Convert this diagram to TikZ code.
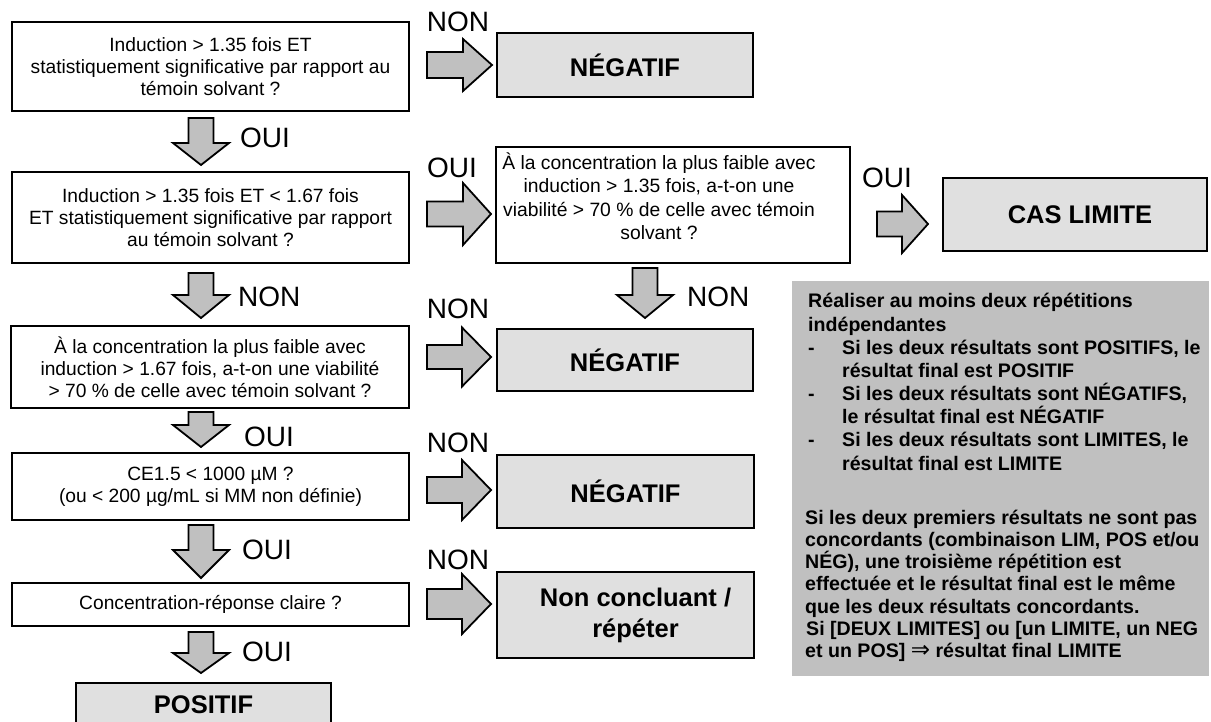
\documentclass[tikz,border=0pt]{standalone}
\usepackage{fontspec}
\setmainfont{Liberation Sans}
\newfontfamily\djv{DejaVu Sans}
\definecolor{boxgray}{HTML}{E0E0E0}
\definecolor{arrowgray}{HTML}{C0C0C0}
\definecolor{notegray}{HTML}{C0C0C0}
\tikzset{
  qbox/.style={draw=black, line width=2.6pt, fill=white, inner sep=0pt, align=center,
    font=\fontsize{19.2}{22}\selectfont},
  rbox/.style={draw=black, line width=2.6pt, fill=boxgray, inner sep=0pt, align=center,
    font=\bfseries\fontsize{25.5}{31}\selectfont},
  txt/.style={inner sep=0pt, align=center, font=\fontsize{19.3}{23.5}\selectfont},
  lbl/.style={inner sep=0pt, font=\fontsize{28}{28}\selectfont},
  note/.style={inner sep=0pt, anchor=base west, font=\bfseries\fontsize{19.6}{22.8}\selectfont},
  blockarrow/.style={draw=black, line width=1.8pt, fill=arrowgray, line join=miter},
  pics/darr/.style n args={2}{code={
    \draw[blockarrow] (-12.5,0) -- (12.5,0) -- (12.5,#1) -- (28,#1) -- (0,#2) -- (-28,#1) -- (-12.5,#1) -- cycle;
  }},
  pics/rarr/.style n args={4}{code={
    \draw[blockarrow] (0,-#3) -- (#1,-#3) -- (#1,-#4) -- (#2,0) -- (#1,#4) -- (#1,#3) -- (0,#3) -- cycle;
  }},
}
\begin{document}
\begin{tikzpicture}[x=1pt,y=-1pt]
\useasboundingbox (0,0) rectangle (1211,722);
\clip (0,0) rectangle (1211,722);
\fill[white] (0,0) rectangle (1211,722);

% left column question boxes
\node[qbox, minimum width=397pt, minimum height=89pt] (q1) at (210.5,66.5)
  {Induction > 1.35 fois ET\\statistiquement significative par rapport au\\témoin solvant ?};
\node[qbox, minimum width=397pt, minimum height=91pt] (q2) at (210.5,217.5)
  {Induction > 1.35 fois ET < 1.67 fois\\ET statistiquement significative par rapport\\au témoin solvant ?};
\node[qbox, minimum width=398pt, minimum height=82pt] (q3) at (210,367)
  {À la concentration la plus faible avec\\induction > 1.67 fois, a-t-on une viabilité\\> 70 \% de celle avec témoin solvant ?};
\node[qbox, minimum width=397pt, minimum height=67pt] (q4) at (210.5,486.5)
  {CE1.5 < 1000 µM ?\\(ou < 200 µg/mL si MM non définie)};
\node[qbox, minimum width=397pt, minimum height=43pt] (q5) at (210.5,604.5)
  {Concentration-réponse claire ?};
\node[rbox, minimum width=255pt, minimum height=44pt] (pos) at (203.5,705) {POSITIF};

% middle column
\node[rbox, minimum width=256pt, minimum height=64pt] (n1) at (625,65) {NÉGATIF};
\node[qbox, minimum width=354pt, minimum height=116pt] (q6) at (673,205) {};
\node[txt] (q6t) at (659,196)
  {À la concentration la plus faible avec\\induction > 1.35 fois, a-t-on une\\viabilité > 70 \% de celle avec témoin\\solvant ?};
\node[rbox, minimum width=256pt, minimum height=62pt] (n2) at (625,360) {NÉGATIF};
\node[rbox, minimum width=257pt, minimum height=73pt] (n3) at (625.5,491.5) {NÉGATIF};
\node[rbox, minimum width=257pt, minimum height=86pt] (n4) at (625.5,615)
  {\hspace*{20pt}Non concluant /\\\hspace*{20pt}répéter};

% right column
\node[rbox, minimum width=264pt, minimum height=73pt] (cas) at (1075,214.5) {\hspace*{10pt}CAS LIMITE};

% block arrows
\pic at (201,118) {darr={25}{47}};
\pic at (201,273) {darr={22}{45}};
\pic at (201,412) {darr={13}{35}};
\pic at (201,525) {darr={25}{53}};
\pic at (201,632) {darr={21}{41}};
\pic at (645,268) {darr={27}{50}};
\pic at (427,65) {rarr={36}{65}{13}{26}};
\pic at (427,214) {rarr={36}{64}{12.5}{31}};
\pic at (877,224) {rarr={25}{51}{12.5}{29}};
\pic at (427,357) {rarr={35}{64}{12}{29.5}};
\pic at (427,490) {rarr={35}{64}{13}{30}};
\pic at (427,604) {rarr={35}{64}{15}{30}};

% labels
\node[lbl] (l1) at (458,22) {NON};
\node[lbl, anchor=west] (l2) at (240,138) {OUI};
\node[lbl, anchor=west] (l3) at (427,168) {OUI};
\node[lbl, anchor=west] (l4) at (862,178) {OUI};
\node[lbl, anchor=west] (l5) at (238,297) {NON};
\node[lbl, anchor=west] (l6) at (687,297) {NON};
\node[lbl] (l7) at (458,309) {NON};
\node[lbl, anchor=west] (l8) at (244,437) {OUI};
\node[lbl] (l9) at (458,443) {NON};
\node[lbl, anchor=west] (l10) at (242,550) {OUI};
\node[lbl] (l11) at (458,560) {NON};
\node[lbl, anchor=west] (l12) at (242,652) {OUI};

% notes box
\node[fill=notegray, inner sep=0pt, minimum width=417pt, minimum height=395pt] (notes) at (1000.5,478.5) {};
\node[note] (t1) at (808,308) {Réaliser au moins deux répétitions};
\node[note] (t2) at (808,331) {indépendantes};
\node[note] (t3) at (808,354) {-};
\node[note] (t3b) at (842,354) {Si les deux résultats sont POSITIFS, le};
\node[note] (t4) at (842,377) {résultat final est POSITIF};
\node[note] (t5) at (808,400) {-};
\node[note] (t5b) at (842,400) {Si les deux résultats sont NÉGATIFS,};
\node[note] (t6) at (842,423) {le résultat final est NÉGATIF};
\node[note] (t7) at (808,446) {-};
\node[note] (t7b) at (842,446) {Si les deux résultats sont LIMITES, le};
\node[note] (t8) at (842,470) {résultat final est LIMITE};
\node[note] (t9) at (805,524) {Si les deux premiers résultats ne sont pas};
\node[note] (t10) at (805,546) {concordants (combinaison LIM, POS et/ou};
\node[note] (t11) at (805,568) {NÉG), une troisième répétition est};
\node[note] (t12) at (805,590) {effectuée et le résultat final est le même};
\node[note] (t13) at (805,613) {que les deux résultats concordants.};
\node[note] (t14) at (806,635) {Si [DEUX LIMITES] ou [un LIMITE, un NEG};
\node[note] (t15) at (805,657) {et un POS] {\djv\mdseries\fontsize{23}{23}\selectfont ⇒} résultat final LIMITE};
\end{tikzpicture}
\end{document}
